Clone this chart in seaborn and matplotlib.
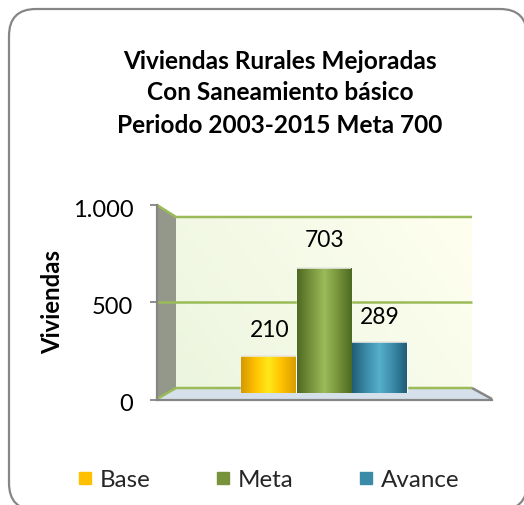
import numpy as np
import pandas as pd
import matplotlib
matplotlib.use("Agg")
import matplotlib.pyplot as plt
from matplotlib.colors import LinearSegmentedColormap
from matplotlib.patches import FancyBboxPatch, Polygon
from matplotlib.lines import Line2D
from matplotlib.transforms import ScaledTranslation
import seaborn as sns

categories = ["Base", "Meta", "Avance"]
values = [210, 703, 289]
colors = ["#FFC000", "#77933C", "#3B8BA8"]
title_lines = ["Viviendas Rurales Mejoradas", "Con Saneamiento básico", "Periodo 2003-2015 Meta 700"]
y_ticks = [0, 500, 1000]
y_tick_labels = ["0", "500", "1.000"]
grads = [["#D49A00", "#FFC000", "#FFE81A", "#FFC000", "#D89F00"],
         ["#4F6A22", "#77933C", "#9BBB59", "#77933C", "#4F6A22"],
         ["#215E78", "#3B8BA8", "#56AFCB", "#3B8BA8", "#215E78"]]

sns.set_theme(style="white")
plt.rcParams["font.family"] = ["Lato", "DejaVu Sans"]
W, H = 524, 506
fig = plt.figure(figsize=(W / 100, H / 100), dpi=100, facecolor="white")

def axes_px(x0, y0, x1, y1, **kw):
    return fig.add_axes([x0 / W, 1 - y1 / H, (x1 - x0) / W, (y1 - y0) / H], **kw)

# decoration layer in pixel coordinates
bg = axes_px(0, 0, W, H)
bg.set_xlim(0, W); bg.set_ylim(H, 0); bg.axis("off")
r = 27
bx0, by0, bx1, by1 = 9, 10, 527, 511
bg.add_patch(FancyBboxPatch((bx0 + r, by0 + r), bx1 - bx0 - 2 * r, by1 - by0 - 2 * r,
                            boxstyle=f"round,pad={r},rounding_size={r}", fc="white", ec="#868686", lw=1.6))
# back wall gradient
wall = LinearSegmentedColormap.from_list("w", ["#ECF5DF", "#FFFFF0"])
gx, gy = np.meshgrid(np.linspace(0, 1, 60), np.linspace(0, 1, 60))
bg.imshow(gx * 0.7 + (1 - gy) * 0.3, cmap=wall, extent=(176, 472, 389, 218), aspect="auto", zorder=1)
bg.set_xlim(0, W); bg.set_ylim(H, 0)
bg.add_patch(Polygon([(157, 206), (176, 218), (176, 389), (157, 400)], fc="#94988A", ec="none", zorder=2))
bg.add_patch(Polygon([(157, 400), (176, 389), (472, 389), (492, 400)], fc="#D5E0EA", ec="none", zorder=2))
for pts, col in [([(157, 206), (176, 218), (472, 218)], "#9BBB59"),
                 ([(157, 303), (176, 303), (472, 303)], "#9BBB59"),
                 ([(157, 400), (176, 389), (472, 389)], "#9BBB59"),
                 ([(472, 389), (492, 400)], "#868686")]:
    bg.plot(*zip(*pts), color=col, lw=1.8, zorder=3, solid_capstyle="butt")

# front value axis
front = axes_px(157, 206, 492, 400.5, facecolor="none")
front.set_ylim(0, 1000)
front.set_xlim(0, 1)
front.set_xticks([])
front.set_yticks(y_ticks, y_tick_labels)
front.tick_params(axis="y", length=5, width=1.3, color="#868686", labelsize=17, pad=12, left=True, labelcolor="black")
shift = ScaledTranslation(0, -2.2 / 100, fig.dpi_scale_trans)
for lab in front.get_yticklabels():
    lab.set_transform(lab.get_transform() + shift)
for s in ["top", "right"]:
    front.spines[s].set_visible(False)
for s in ["left", "bottom"]:
    front.spines[s].set_color("#868686")
    front.spines[s].set_linewidth(1.6)
front.set_ylabel("Viviendas", fontsize=17.2, fontweight="bold", color="black")
front.yaxis.set_label_coords(-0.277, 0.505)

# bars
ax = axes_px(176, 218, 472, 394, facecolor="none")
df = pd.DataFrame({"cat": categories, "val": values})
sns.barplot(data=df, x="cat", y="val", hue="cat", palette=colors, width=0.99, legend=False, ax=ax, saturation=1)
ax.axis("off")
for i, (patch, g) in enumerate(zip(ax.patches, grads)):
    cm = LinearSegmentedColormap.from_list(f"g{i}", g)
    x0, y0, w, h = patch.get_x(), patch.get_y(), patch.get_width(), patch.get_height()
    im = ax.imshow(np.linspace(0, 1, 64)[None, :], cmap=cm, extent=(x0, x0 + w, y0, y0 + h), aspect="auto", zorder=3)
    im.set_clip_path(patch)
    ax.plot([x0, x0 + w], [y0 + h, y0 + h], color="#E8E8E0", lw=1.2, zorder=4, solid_capstyle="butt")
ax.set_xlim(-1.676, 3.676)
ax.set_ylim(0, 176 / 0.178)
for i, (v, off) in enumerate(zip(values, [18.5, 20.5, 18])):
    ax.annotate(str(v), (i, v), xytext=(0.4, off), textcoords="offset points",
                ha="center", va="center", fontsize=16.5, color="black", zorder=5)

# title
for line, y in zip(title_lines, [69, 100.5, 133]):
    fig.text(280 / W, 1 - y / H, line, ha="center", va="baseline", fontsize=17.6, fontweight="bold", color="black")

# legend
handles = [Line2D([], [], marker="s", ls="none", color=c, markersize=9.0) for c in colors]
fig.legend(handles, categories, loc="center", bbox_to_anchor=(266 / W, 1 - 481 / H), ncol=3, frameon=False,
           fontsize=17.4, columnspacing=2.49, handletextpad=0.12, handlelength=1.0)
fig.savefig("out.png", dpi=100)
